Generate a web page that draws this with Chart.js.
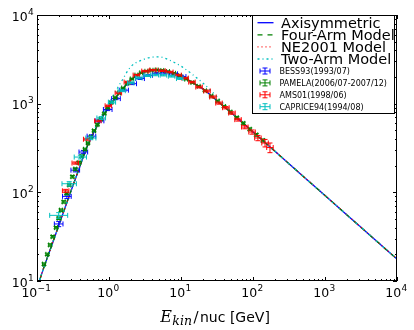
<!DOCTYPE html>
<html>
<head>
<meta charset="utf-8">
<script src="https://cdn.jsdelivr.net/npm/chart.js@4/dist/chart.umd.min.js"></script>
<style>
  body { margin: 0; background: #fff; }
  canvas { display: block; }
</style>
</head>
<body>
<canvas id="chart" width="414" height="330"></canvas>
<script>
// model curves, E_kin/nuc in GeV
let modelEnergy = [0.1, 0.12, 0.15, 0.2, 0.25, 0.3, 0.4, 0.5, 0.7, 1, 1.5, 2, 3, 4, 5, 7, 10, 15, 20, 30, 50, 70, 100, 200, 500, 1000, 2000, 5000, 10000];
let axisymmetric = [8.2, 13, 21.7, 42, 70, 106, 202, 330, 580, 920, 1420, 1850, 2280, 2390, 2400, 2290, 2050, 1700, 1470, 1120, 790, 620, 480, 292, 151, 92, 56, 29, 17.7];
let fourArm = [8.2, 13, 21.7, 42, 70, 106, 202, 330, 578, 915, 1410, 1835, 2260, 2370, 2380, 2275, 2040, 1695, 1465, 1118, 790, 620, 480, 292, 151, 92, 56, 29, 17.7];
let ne2001 = [8.2, 13, 21.8, 42, 70, 107, 204, 332, 583, 925, 1430, 1865, 2300, 2410, 2415, 2300, 2060, 1705, 1475, 1122, 791, 620, 480, 292, 151, 92, 56, 29, 17.7];
let twoArm = [8.2, 13, 21.7, 42, 70, 106, 205, 340, 610, 1020, 1800, 2600, 3150, 3350, 3370, 3080, 2650, 2080, 1720, 1250, 810, 625, 480, 292, 151, 92, 56, 29, 17.7];

// measurements
let bessEnergy = [0.2, 0.26, 0.34, 0.44, 0.57, 0.74, 0.96, 1.25, 1.62, 2.1, 2.7, 3.5, 4.6, 6.0, 7.8, 10.2];
let bessFlux = [44, 90, 178, 285, 430, 640, 860, 1140, 1420, 1680, 1920, 2090, 2200, 2230, 2170, 2020];
let bessErr = [3, 5, 8, 12, 15, 20, 25, 30, 35, 40, 45, 50, 55, 60, 65, 70];

let pamelaEnergy = [0.125, 0.139, 0.152, 0.165, 0.184, 0.2, 0.215, 0.235, 0.258, 0.281, 0.31, 0.34, 0.379, 0.417, 0.464, 0.51, 0.56, 0.62, 0.69, 0.77, 0.86, 0.96, 1.08, 1.22, 1.38, 1.57, 1.8, 2.07, 2.4, 2.8, 3.3, 3.9, 4.6, 5.5, 6.6, 8.0, 9.7, 11.8, 14.4, 17.6, 21.5, 26.3, 32.2, 39.5, 48.5, 59.6, 73.3, 90.2, 111, 137];
let pamelaFlux = [15.5, 20, 25.5, 31.6, 40, 51, 63, 78, 97, 121, 150, 183, 216, 256, 306, 360, 420, 495, 580, 670, 770, 900, 1030, 1170, 1320, 1500, 1700, 1900, 2100, 2230, 2320, 2380, 2400, 2370, 2300, 2200, 2070, 1890, 1730, 1570, 1400, 1220, 1070, 930, 805, 695, 600, 515, 445, 385];
let pamelaErr = [0.5, 0.6, 0.8, 1, 1.2, 1.5, 2, 2.5, 3, 4, 5, 6, 7, 8, 9, 10, 12, 14, 16, 18, 20, 22, 24, 26, 28, 30, 34, 38, 40, 42, 44, 45, 45, 45, 44, 42, 40, 38, 36, 34, 32, 30, 28, 26, 24, 22, 20, 18, 16, 15];

let amsEnergy = [0.25, 0.34, 0.49, 0.7, 0.98, 1.35, 1.8, 2.4, 3.16, 4.08, 5.44, 7.0, 9.1, 11.4, 14.2, 17.8, 23, 27.8, 33.7, 42, 51, 62, 77, 97, 117, 147, 172];
let amsFlux = [104, 214, 397, 640, 946, 1320, 1750, 2100, 2330, 2390, 2350, 2270, 2100, 1940, 1750, 1540, 1390, 1190, 1015, 900, 784, 660, 545, 479, 410, 360, 320];
let amsErr = [4, 6, 10, 15, 20, 28, 35, 40, 45, 45, 45, 45, 42, 40, 38, 35, 33, 30, 28, 27, 25, 24, 24, 26, 28, 35, 40];

let capriceEnergy = [0.2, 0.28, 0.4, 0.56, 0.78, 1.1, 1.5, 2.0, 2.6, 3.4, 4.4, 5.7, 7.4, 9.6];
let capriceFlux = [55, 125, 250, 410, 690, 1040, 1400, 1720, 1950, 2070, 2110, 2100, 2040, 1920];
let capriceErr = [4, 7, 12, 18, 25, 30, 35, 40, 45, 45, 45, 45, 45, 45];
let capriceBin = [0.125, 0.1, 0.085, 0.07, 0.06, 0.05, 0.05, 0.045, 0.045, 0.045, 0.045, 0.045, 0.045, 0.045];

let xDecades = [-1, 0, 1, 2, 3, 4];
let yDecades = [1, 2, 3, 4];

function toPoints(xs, ys) {
    return xs.map((x, i) => ({x: x, y: ys[i]}));
}

function lineSet(label, values, color, dash, order) {
    return {
        label: label,
        data: toPoints(modelEnergy, values),
        showLine: true,
        borderColor: color,
        borderWidth: 1.3,
        borderDash: dash,
        pointRadius: 0,
        cubicInterpolationMode: 'monotone',
        order: order
    };
}

function pointSet(label, xs, ys, errs, bins, color) {
    return {
        label: label,
        data: toPoints(xs, ys),
        showLine: false,
        pointRadius: 0,
        borderColor: color,
        errorBars: {yErr: errs, xBin: bins},
        order: 0
    };
}

function drawPower(ctx, exp, x, y, align) {
    ctx.font = '12.5px "DejaVu Sans"';
    let w1 = ctx.measureText('10').width;
    let sup = exp < 0 ? '\u2212' + (-exp) : String(exp);
    ctx.font = '9px "DejaVu Sans"';
    let w2 = ctx.measureText(sup).width;
    let x0 = align == 'center' ? x - (w1 + w2) / 2 : x - w1 - w2;
    ctx.font = '12.5px "DejaVu Sans"';
    ctx.fillText('10', x0, y);
    ctx.font = '9px "DejaVu Sans"';
    ctx.fillText(sup, x0 + w1 + 0.3, y - 6);
}

function errGlyph(ctx, cx, cy, hw, hh, cap) {
    ctx.beginPath();
    ctx.moveTo(cx - hw, cy); ctx.lineTo(cx + hw, cy);
    ctx.moveTo(cx - hw, cy - cap); ctx.lineTo(cx - hw, cy + cap);
    ctx.moveTo(cx + hw, cy - cap); ctx.lineTo(cx + hw, cy + cap);
    ctx.moveTo(cx, cy - hh); ctx.lineTo(cx, cy + hh);
    ctx.moveTo(cx - cap, cy - hh); ctx.lineTo(cx + cap, cy - hh);
    ctx.moveTo(cx - cap, cy + hh); ctx.lineTo(cx + cap, cy + hh);
    ctx.stroke();
}

const decorations = {
    id: 'decorations',
    afterDatasetsDraw(chart) {
        const ctx = chart.ctx;
        const xs = chart.scales.x, ys = chart.scales.y;
        const area = chart.chartArea;
        ctx.save();
        ctx.beginPath();
        ctx.rect(area.left, area.top, area.right - area.left, area.bottom - area.top);
        ctx.clip();
        ctx.lineWidth = 1;
        chart.data.datasets.forEach(ds => {
            if (!ds.errorBars) return;
            ctx.strokeStyle = ds.borderColor;
            ds.data.forEach((p, i) => {
                let bin = Array.isArray(ds.errorBars.xBin) ? ds.errorBars.xBin[i] : ds.errorBars.xBin;
                let err = ds.errorBars.yErr[i];
                let px = xs.getPixelForValue(p.x);
                let pl = xs.getPixelForValue(p.x * Math.pow(10, -bin));
                let pr = xs.getPixelForValue(p.x * Math.pow(10, bin));
                let py = ys.getPixelForValue(p.y);
                let pt = ys.getPixelForValue(p.y + err);
                let pb = ys.getPixelForValue(p.y - err);
                let cap = 2.5;
                ctx.beginPath();
                ctx.moveTo(pl, py); ctx.lineTo(pr, py);
                ctx.moveTo(pl, py - cap); ctx.lineTo(pl, py + cap);
                ctx.moveTo(pr, py - cap); ctx.lineTo(pr, py + cap);
                ctx.moveTo(px, pt); ctx.lineTo(px, pb);
                ctx.moveTo(px - cap, pt); ctx.lineTo(px + cap, pt);
                ctx.moveTo(px - cap, pb); ctx.lineTo(px + cap, pb);
                ctx.stroke();
            });
        });
        ctx.restore();
    },
    afterDraw(chart) {
        const ctx = chart.ctx;
        const xs = chart.scales.x, ys = chart.scales.y;
        const a = chart.chartArea;
        ctx.save();
        ctx.strokeStyle = '#000';
        ctx.fillStyle = '#000';
        ctx.lineWidth = 1;

        // ticks, inside, all four sides
        ctx.beginPath();
        xDecades.forEach(d => {
            for (let m = 1; m < 10; m++) {
                let v = Math.pow(10, d) * m;
                if (v > xs.max * 1.0001) break;
                let px = Math.round(xs.getPixelForValue(v)) + 0.5;
                let len = m == 1 ? 4 : 2;
                ctx.moveTo(px, a.bottom); ctx.lineTo(px, a.bottom - len);
                ctx.moveTo(px, a.top); ctx.lineTo(px, a.top + len);
            }
        });
        yDecades.forEach(d => {
            for (let m = 1; m < 10; m++) {
                let v = Math.pow(10, d) * m;
                if (v > ys.max * 1.0001) break;
                let py = Math.round(ys.getPixelForValue(v)) + 0.5;
                let len = m == 1 ? 4 : 2;
                ctx.moveTo(a.left, py); ctx.lineTo(a.left + len, py);
                ctx.moveTo(a.right, py); ctx.lineTo(a.right - len, py);
            }
        });
        ctx.stroke();

        // tick labels
        ctx.textBaseline = 'alphabetic';
        xDecades.forEach(d => {
            drawPower(ctx, d, xs.getPixelForValue(Math.pow(10, d)) - 1, a.bottom + 15.5, 'center');
        });
        yDecades.forEach(d => {
            drawPower(ctx, d, a.left - 3.5, ys.getPixelForValue(Math.pow(10, d)) + 5.5, 'right');
        });

        // axis title
        let parts = [
            {t: 'E', f: 'italic 16px "DejaVu Serif"', dy: 0, gap: 0.5},
            {t: 'kin', f: 'italic 12.5px "DejaVu Serif"', dy: 3, gap: 1.5},
            {t: '/', f: '15px "DejaVu Serif"', dy: 0, gap: 1.5},
            {t: 'nuc [GeV]', f: '14px "DejaVu Sans"', dy: 0, gap: 0}
        ];
        let total = 0;
        parts.forEach(p => { ctx.font = p.f; p.w = ctx.measureText(p.t).width; total += p.w + p.gap; });
        let tx = (a.left + a.right) / 2 - 2 - total / 2;
        parts.forEach(p => {
            ctx.font = p.f;
            ctx.fillText(p.t, tx, 321.5 + p.dy);
            tx += p.w + p.gap;
        });

        // frame
        ctx.strokeRect(a.left + 0.5, a.top + 0.5, a.right - a.left - 1, a.bottom - a.top - 1);

        // legend, clipped to the axes
        ctx.beginPath();
        ctx.rect(a.left, a.top, a.right - a.left, a.bottom - a.top);
        ctx.clip();
        let bx = a.right - 144.5, by = a.top + 0.5;
        ctx.fillStyle = '#fff';
        ctx.fillRect(bx, by, 142, 98);
        ctx.strokeStyle = '#000';
        ctx.strokeRect(bx, by, 142, 98);
        let lines = chart.data.datasets.filter(ds => ds.showLine);
        lines.sort((p, q) => q.order - p.order);
        lines.forEach((ds, i) => {
            let cy = a.top + 7.7 + i * 12.1;
            ctx.strokeStyle = ds.borderColor;
            ctx.lineWidth = 1.3;
            ctx.setLineDash(ds.borderDash || []);
            ctx.beginPath();
            ctx.moveTo(bx + 5, cy); ctx.lineTo(bx + 21, cy);
            ctx.stroke();
            ctx.setLineDash([]);
            ctx.fillStyle = '#000';
            ctx.font = '14.5px "DejaVu Sans"';
            ctx.fillText(ds.label, bx + 28.5, cy + 5);
        });
        let pts = chart.data.datasets.filter(ds => ds.errorBars);
        pts.forEach((ds, i) => {
            let cy = a.top + 56 + i * 11.9;
            ctx.strokeStyle = ds.borderColor;
            ctx.lineWidth = 1;
            errGlyph(ctx, bx + 12.5, cy, 5, 3, 2.5);
            ctx.fillStyle = '#000';
            ctx.font = '8px "DejaVu Sans"';
            ctx.fillText(ds.label, bx + 27, cy + 3);
        });
        ctx.restore();
    }
};

new Chart(document.getElementById('chart'), {
    type: 'scatter',
    data: {
        datasets: [
            lineSet('Axisymmetric', axisymmetric, '#0000ff', [], 4),
            lineSet('Four-Arm Model', fourArm, '#008000', [5, 5], 3),
            lineSet('NE2001 Model', ne2001, '#ff0000', [1, 3], 2),
            lineSet('Two-Arm Model', twoArm, '#00bfbf', [2, 3, 1, 3], 1),
            pointSet('BESS93(1993/07)', bessEnergy, bessFlux, bessErr, 0.06, '#0000ff'),
            pointSet('PAMELA(2006/07-2007/12)', pamelaEnergy, pamelaFlux, pamelaErr, 0.02, '#008000'),
            pointSet('AMS01(1998/06)', amsEnergy, amsFlux, amsErr, 0.045, '#ff0000'),
            pointSet('CAPRICE94(1994/08)', capriceEnergy, capriceFlux, capriceErr, capriceBin, '#00bfbf')
        ]
    },
    options: {
        responsive: false,
        animation: false,
        devicePixelRatio: 1,
        layout: {padding: {left: 37, right: 17, top: 15, bottom: 49}},
        scales: {
            x: {type: 'logarithmic', min: 0.1, max: 10000, display: false},
            y: {type: 'logarithmic', min: 10, max: 10000, display: false}
        },
        plugins: {
            legend: {display: false},
            tooltip: {enabled: false}
        }
    },
    plugins: [decorations]
});
</script>
</body>
</html>
